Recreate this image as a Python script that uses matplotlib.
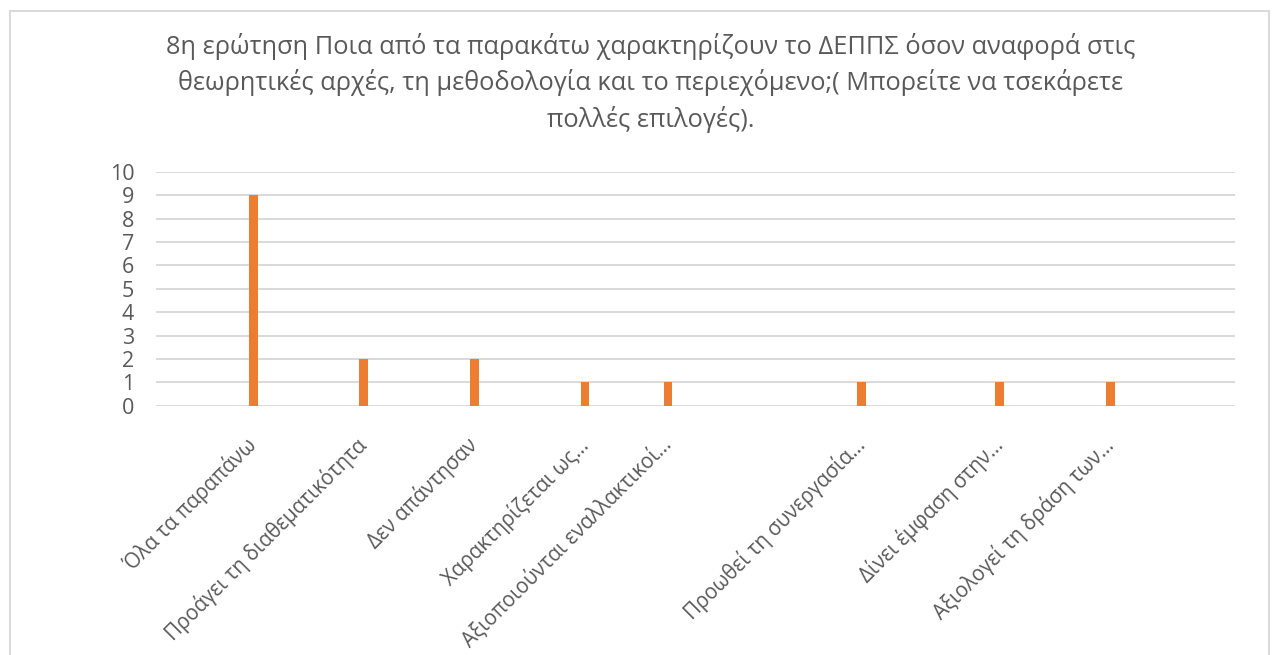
import matplotlib
matplotlib.use('Agg')
import matplotlib.pyplot as plt
from matplotlib.patches import Rectangle

# Κατηγορίες (οι κενές θέσεις υπάρχουν στο αρχικό φύλλο χωρίς τίτλο)
categories = ['', '', '', 'Όλα τα παραπάνω',
              '', '', '', 'Προάγει τη διαθεματικότητα',
              '', '', '', 'Δεν απάντησαν',
              '', '', '', 'Χαρακτηρίζεται ως…',
              '', '', 'Αξιοποιούνται εναλλακτικοί…',
              '', '', '', '', '', '', 'Προωθεί τη συνεργασία…',
              '', '', '', '', 'Δίνει έμφαση στην…',
              '', '', '', 'Αξιολογεί τη δράση των…',
              '', '', '', '']
counts = [0, 0, 0, 9,
          0, 0, 0, 2,
          0, 0, 0, 2,
          0, 0, 0, 1,
          0, 0, 1,
          0, 0, 0, 0, 0, 0, 1,
          0, 0, 0, 0, 1,
          0, 0, 0, 1,
          0, 0, 0, 0]
y_ticks = list(range(0, 11))

title = ('8η ερώτηση Ποια από τα παρακάτω χαρακτηρίζουν το ΔΕΠΠΣ όσον αναφορά στις\n'
         'θεωρητικές αρχές, τη μεθοδολογία και το περιεχόμενο;( Μπορείτε να τσεκάρετε\n'
         'πολλές επιλογές).')

plt.rcParams['font.family'] = ['Open Sans', 'DejaVu Sans']
text_color = '#595959'
grid_color = '#D9D9D9'

fig = plt.figure(figsize=(12.73, 6.55), dpi=100)
ax = fig.add_axes([0.1229, 0.3806, 0.8471, 0.3572])

x = list(range(len(categories)))
ax.bar(x, counts, width=0.315, color='#ED7D31', zorder=3)

ax.set_xlim(-0.5, len(categories) - 0.5)
ax.set_ylim(0, 10)
ax.set_yticks(y_ticks)
ax.set_yticklabels([str(t) for t in y_ticks], fontsize=15.5, color=text_color)
ax.set_xticks(x)
ax.set_xticklabels(categories, rotation=45, ha='right', va='center',
                   rotation_mode='anchor', fontsize=14.8, color=text_color)
ax.tick_params(axis='y', length=0, pad=16)
ax.tick_params(axis='x', length=0, pad=26)
ax.yaxis.grid(True, color=grid_color, linewidth=1.4, zorder=0)
for s in ax.spines.values():
    s.set_visible(False)

fig.text(0.511, 1 - 33 / 655, title, ha='center', va='top', fontsize=18.3,
         color=text_color, linespacing=1.45)

# Πλαίσιο γραφήματος
fig.patches.append(Rectangle((10 / 1273, -0.05), 1259 / 1273, 1 - 11 / 655 + 0.05,
                             transform=fig.transFigure, fill=False,
                             edgecolor=grid_color, linewidth=1.4))

fig.savefig('out.png', dpi=100, facecolor='white')
